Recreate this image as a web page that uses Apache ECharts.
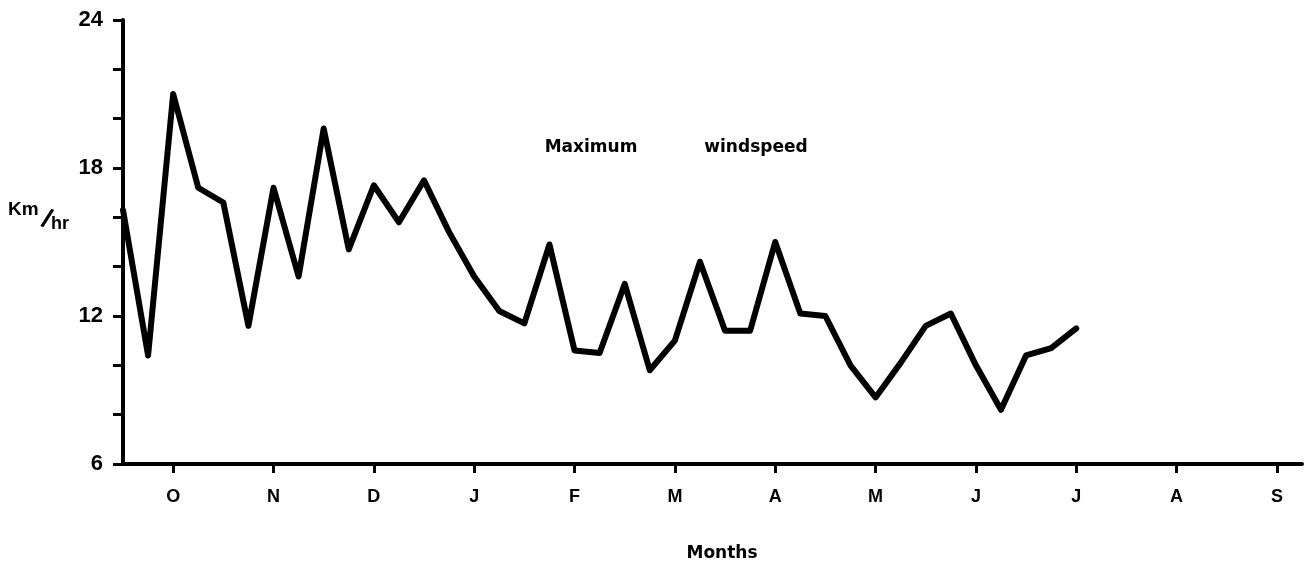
<!DOCTYPE html>
<html>
<head>
<meta charset="utf-8">
<title>Maximum windspeed</title>
<script src="https://cdn.jsdelivr.net/npm/echarts@6/dist/echarts.min.js"></script>
<style>
  html, body { margin: 0; padding: 0; background: #ffffff; }
  #chart { width: 1309px; height: 571px; }
</style>
</head>
<body>
<div id="chart"></div>
<script>
// Month labels along the time axis (October through September)
const monthLabels = ['O', 'N', 'D', 'J', 'F', 'M', 'A', 'M', 'J', 'J', 'A', 'S'];
// Month tick positions, in months from mid-September
const monthTicks = [1, 2, 3, 4, 5, 6, 7, 8, 9, 10, 11, 12];
// Labelled values on the speed axis
const yLabelValues = [6, 12, 18, 24];
// Weekly maximum windspeed, km/hr, one reading every quarter month from mid-September
const windspeed = [
  16.3, 10.4, 21.0, 17.2, 16.6, 11.6, 17.2, 13.6, 19.6, 14.7,
  17.3, 15.8, 17.5, 15.4, 13.6, 12.2, 11.7, 14.9, 10.6, 10.5,
  13.3, 9.8, 11.0, 14.2, 11.4, 11.4, 15.0, 12.1, 12.0, 10.0,
  8.7, 10.1, 11.6, 12.1, 10.0, 8.2, 10.4, 10.7, 11.5
];
const firstReading = 0.5;   // month position of the first reading
const readingStep = 0.25;   // quarter month between readings

const seriesData = windspeed.map((v, i) => [firstReading + i * readingStep, v]);

const chart = echarts.init(document.getElementById('chart'), null, { renderer: 'canvas' });

const axisColor = '#000000';
const boldFont = 'Liberation Sans, Arial, sans-serif';
const wideFont = 'DejaVu Sans, sans-serif';

chart.setOption({
  backgroundColor: '#ffffff',
  animation: false,
  grid: { left: 123, right: 7, top: 20, bottom: 107, containLabel: false },
  xAxis: {
    type: 'value',
    min: 0.5,
    max: 12.25,
    axisLine: { show: true, lineStyle: { color: axisColor, width: 4 } },
    axisTick: {
      show: true,
      customValues: monthTicks,
      length: 9,
      inside: false,
      lineStyle: { color: axisColor, width: 3 }
    },
    axisLabel: {
      show: true,
      customValues: monthTicks,
      margin: 24,
      color: '#000',
      fontFamily: boldFont,
      fontWeight: 'bold',
      fontSize: 18,
      formatter: (v) => monthLabels[Math.round(v) - 1] || ''
    },
    splitLine: { show: false }
  },
  yAxis: {
    type: 'value',
    min: 6,
    max: 24,
    interval: 2,
    axisLine: { show: true, lineStyle: { color: axisColor, width: 4 } },
    axisTick: { show: true, length: 10, lineStyle: { color: axisColor, width: 3 } },
    axisLabel: {
      show: true,
      customValues: yLabelValues,
      margin: 20,
      color: '#000',
      fontFamily: boldFont,
      fontWeight: 'bold',
      fontSize: 22
    },
    splitLine: { show: false }
  },
  series: [{
    type: 'line',
    data: seriesData,
    showSymbol: false,
    symbol: 'none',
    lineStyle: { color: '#000000', width: 6, join: 'round', cap: 'round' },
    z: 3
  }],
  graphic: [
    {
      type: 'text', left: 8, top: 200,
      style: { text: 'Km', fill: '#000', font: 'bold 19px ' + boldFont }
    },
    {
      type: 'text', x: 46.5, y: 220, rotation: -0.38,
      style: { text: '/', fill: '#000', font: 'bold 27px ' + boldFont, align: 'center', verticalAlign: 'middle' }
    },
    {
      type: 'text', left: 51, top: 215,
      style: { text: 'hr', fill: '#000', font: 'bold 18px ' + boldFont }
    },
    {
      type: 'text', x: 591, y: 148,
      style: { text: 'Maximum', fill: '#000', font: 'bold 17px ' + wideFont, align: 'center', verticalAlign: 'middle' }
    },
    {
      type: 'text', x: 756, y: 148,
      style: { text: 'windspeed', fill: '#000', font: 'bold 17px ' + wideFont, align: 'center', verticalAlign: 'middle' }
    },
    {
      type: 'text', x: 722, y: 554,
      style: { text: 'Months', fill: '#000', font: 'bold 17px ' + wideFont, align: 'center', verticalAlign: 'middle' }
    }
  ]
});
</script>
</body>
</html>
